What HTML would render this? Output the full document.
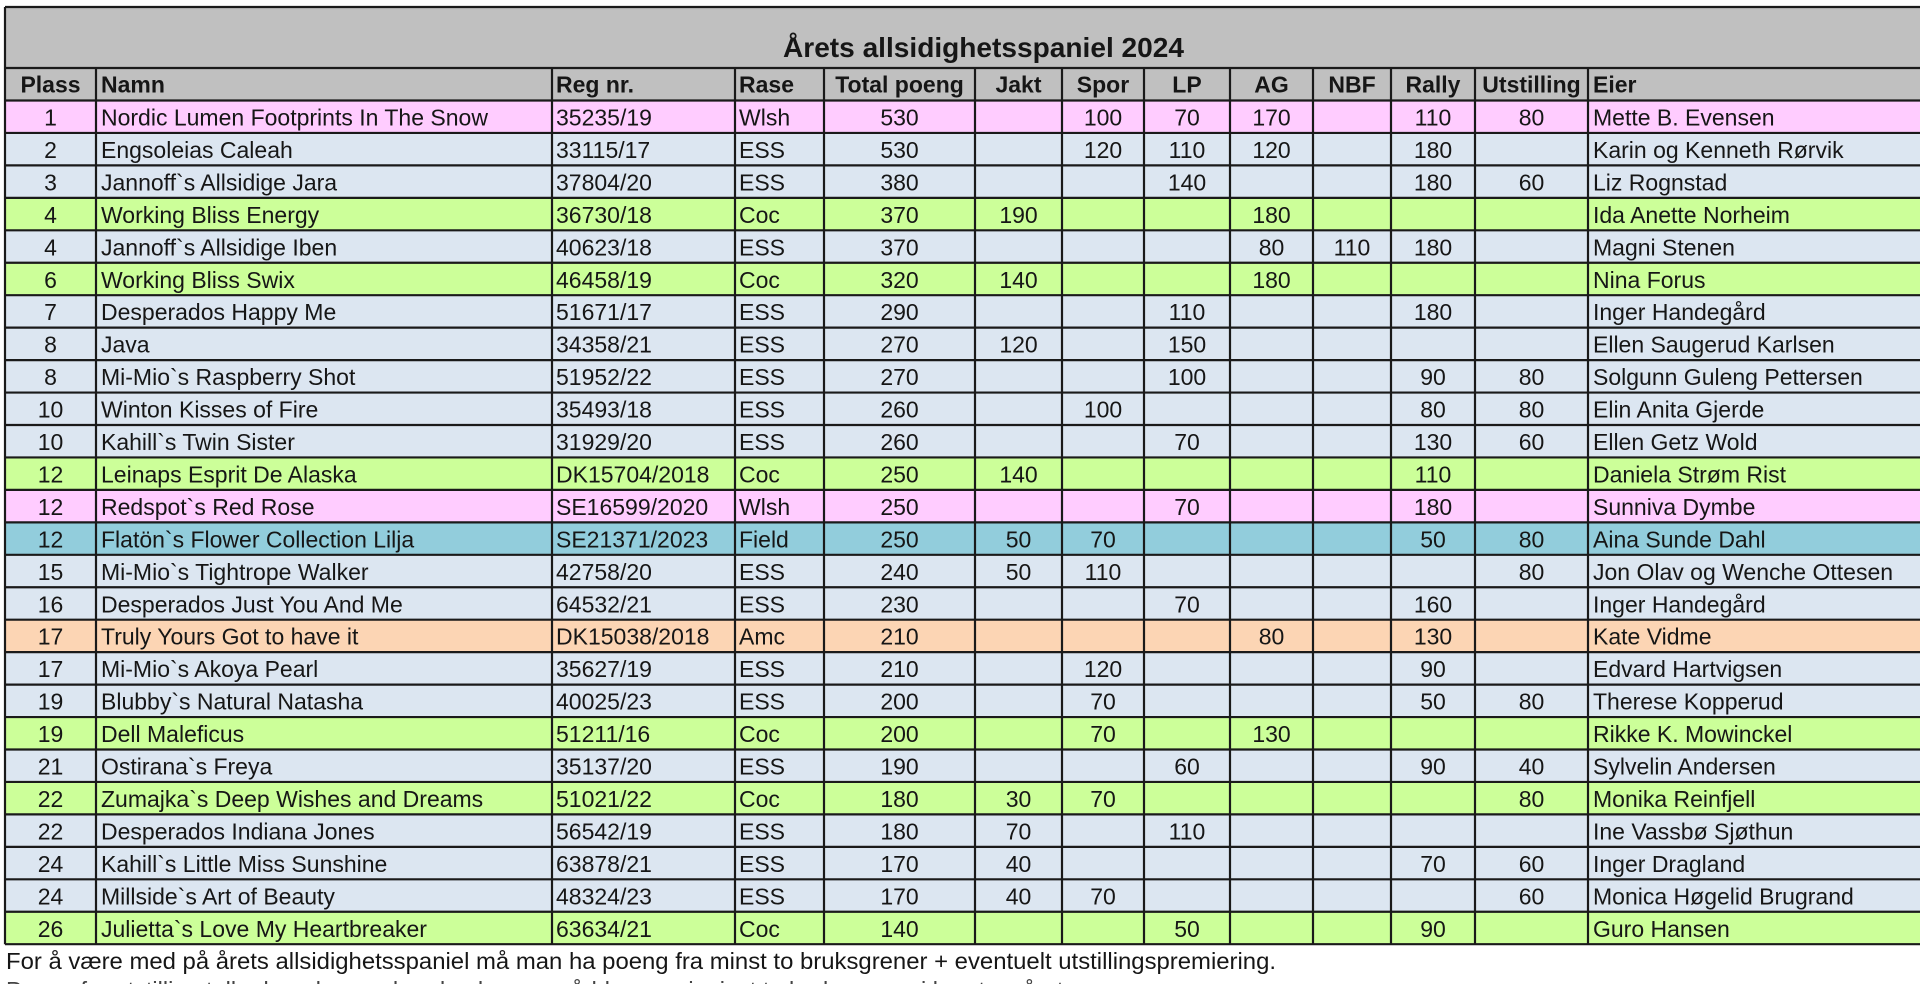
<!DOCTYPE html>
<html>
<head>
<meta charset="utf-8">
<style>
html,body{margin:0;padding:0;background:#fff;width:1920px;height:984px;overflow:hidden}
svg{display:block}
.c{text-anchor:middle}
</style>
</head>
<body>
<svg width="1920" height="984" viewBox="0 0 1920 984" xmlns="http://www.w3.org/2000/svg" font-family="'Liberation Sans', Arial, sans-serif" font-size="23" fill="#161616">
<rect x="0" y="0" width="1920" height="984" fill="#ffffff"/>
<rect x="5" y="7" width="1915" height="93.5" fill="#c0c0c0"/>
<text x="983.5" y="57" class="c" font-weight="bold" font-size="28" textLength="401" lengthAdjust="spacingAndGlyphs">Årets allsidighetsspaniel 2024</text>

<g font-weight="bold" transform="translate(0,68)">
<text x="50.5" y="24.5" class="c">Plass</text>
<text x="101" y="24.5">Namn</text>
<text x="556" y="24.5">Reg nr.</text>
<text x="739" y="24.5">Rase</text>
<text x="899.5" y="24.5" class="c">Total poeng</text>
<text x="1018.5" y="24.5" class="c">Jakt</text>
<text x="1103" y="24.5" class="c">Spor</text>
<text x="1187" y="24.5" class="c">LP</text>
<text x="1271.5" y="24.5" class="c">AG</text>
<text x="1352" y="24.5" class="c">NBF</text>
<text x="1433" y="24.5" class="c">Rally</text>
<text x="1531.5" y="24.5" class="c">Utstilling</text>
<text x="1593" y="24.5">Eier</text>
</g>

<g transform="translate(0,100.5)"><rect x="5" width="1915" height="32.45" fill="#ffccff"/>
<text x="50.5" y="25" class="c">1</text><text x="101" y="25">Nordic Lumen Footprints In The Snow</text><text x="556" y="25">35235/19</text><text x="739" y="25">Wlsh</text><text x="899.5" y="25" class="c">530</text><text x="1103" y="25" class="c">100</text><text x="1187" y="25" class="c">70</text><text x="1271.5" y="25" class="c">170</text><text x="1433" y="25" class="c">110</text><text x="1531.5" y="25" class="c">80</text><text x="1593" y="25">Mette B. Evensen</text></g>

<g transform="translate(0,132.95)"><rect x="5" width="1915" height="32.45" fill="#dce6f1"/>
<text x="50.5" y="25" class="c">2</text><text x="101" y="25">Engsoleias Caleah</text><text x="556" y="25">33115/17</text><text x="739" y="25">ESS</text><text x="899.5" y="25" class="c">530</text><text x="1103" y="25" class="c">120</text><text x="1187" y="25" class="c">110</text><text x="1271.5" y="25" class="c">120</text><text x="1433" y="25" class="c">180</text><text x="1593" y="25">Karin og Kenneth Rørvik</text></g>

<g transform="translate(0,165.4)"><rect x="5" width="1915" height="32.45" fill="#dce6f1"/>
<text x="50.5" y="25" class="c">3</text><text x="101" y="25">Jannoff`s Allsidige Jara</text><text x="556" y="25">37804/20</text><text x="739" y="25">ESS</text><text x="899.5" y="25" class="c">380</text><text x="1187" y="25" class="c">140</text><text x="1433" y="25" class="c">180</text><text x="1531.5" y="25" class="c">60</text><text x="1593" y="25">Liz Rognstad</text></g>

<g transform="translate(0,197.85)"><rect x="5" width="1915" height="32.45" fill="#ccff99"/>
<text x="50.5" y="25" class="c">4</text><text x="101" y="25">Working Bliss Energy</text><text x="556" y="25">36730/18</text><text x="739" y="25">Coc</text><text x="899.5" y="25" class="c">370</text><text x="1018.5" y="25" class="c">190</text><text x="1271.5" y="25" class="c">180</text><text x="1593" y="25">Ida Anette Norheim</text></g>

<g transform="translate(0,230.3)"><rect x="5" width="1915" height="32.45" fill="#dce6f1"/>
<text x="50.5" y="25" class="c">4</text><text x="101" y="25">Jannoff`s Allsidige Iben</text><text x="556" y="25">40623/18</text><text x="739" y="25">ESS</text><text x="899.5" y="25" class="c">370</text><text x="1271.5" y="25" class="c">80</text><text x="1352" y="25" class="c">110</text><text x="1433" y="25" class="c">180</text><text x="1593" y="25">Magni Stenen</text></g>

<g transform="translate(0,262.75)"><rect x="5" width="1915" height="32.45" fill="#ccff99"/>
<text x="50.5" y="25" class="c">6</text><text x="101" y="25">Working Bliss Swix</text><text x="556" y="25">46458/19</text><text x="739" y="25">Coc</text><text x="899.5" y="25" class="c">320</text><text x="1018.5" y="25" class="c">140</text><text x="1271.5" y="25" class="c">180</text><text x="1593" y="25">Nina Forus</text></g>

<g transform="translate(0,295.2)"><rect x="5" width="1915" height="32.45" fill="#dce6f1"/>
<text x="50.5" y="25" class="c">7</text><text x="101" y="25">Desperados Happy Me</text><text x="556" y="25">51671/17</text><text x="739" y="25">ESS</text><text x="899.5" y="25" class="c">290</text><text x="1187" y="25" class="c">110</text><text x="1433" y="25" class="c">180</text><text x="1593" y="25">Inger Handegård</text></g>

<g transform="translate(0,327.65)"><rect x="5" width="1915" height="32.45" fill="#dce6f1"/>
<text x="50.5" y="25" class="c">8</text><text x="101" y="25">Java</text><text x="556" y="25">34358/21</text><text x="739" y="25">ESS</text><text x="899.5" y="25" class="c">270</text><text x="1018.5" y="25" class="c">120</text><text x="1187" y="25" class="c">150</text><text x="1593" y="25">Ellen Saugerud Karlsen</text></g>

<g transform="translate(0,360.1)"><rect x="5" width="1915" height="32.45" fill="#dce6f1"/>
<text x="50.5" y="25" class="c">8</text><text x="101" y="25">Mi-Mio`s Raspberry Shot</text><text x="556" y="25">51952/22</text><text x="739" y="25">ESS</text><text x="899.5" y="25" class="c">270</text><text x="1187" y="25" class="c">100</text><text x="1433" y="25" class="c">90</text><text x="1531.5" y="25" class="c">80</text><text x="1593" y="25">Solgunn Guleng Pettersen</text></g>

<g transform="translate(0,392.55)"><rect x="5" width="1915" height="32.45" fill="#dce6f1"/>
<text x="50.5" y="25" class="c">10</text><text x="101" y="25">Winton Kisses of Fire</text><text x="556" y="25">35493/18</text><text x="739" y="25">ESS</text><text x="899.5" y="25" class="c">260</text><text x="1103" y="25" class="c">100</text><text x="1433" y="25" class="c">80</text><text x="1531.5" y="25" class="c">80</text><text x="1593" y="25">Elin Anita Gjerde</text></g>

<g transform="translate(0,425)"><rect x="5" width="1915" height="32.45" fill="#dce6f1"/>
<text x="50.5" y="25" class="c">10</text><text x="101" y="25">Kahill`s Twin Sister</text><text x="556" y="25">31929/20</text><text x="739" y="25">ESS</text><text x="899.5" y="25" class="c">260</text><text x="1187" y="25" class="c">70</text><text x="1433" y="25" class="c">130</text><text x="1531.5" y="25" class="c">60</text><text x="1593" y="25">Ellen Getz Wold</text></g>

<g transform="translate(0,457.45)"><rect x="5" width="1915" height="32.45" fill="#ccff99"/>
<text x="50.5" y="25" class="c">12</text><text x="101" y="25">Leinaps Esprit De Alaska</text><text x="556" y="25">DK15704/2018</text><text x="739" y="25">Coc</text><text x="899.5" y="25" class="c">250</text><text x="1018.5" y="25" class="c">140</text><text x="1433" y="25" class="c">110</text><text x="1593" y="25">Daniela Strøm Rist</text></g>

<g transform="translate(0,489.9)"><rect x="5" width="1915" height="32.45" fill="#ffccff"/>
<text x="50.5" y="25" class="c">12</text><text x="101" y="25">Redspot`s Red Rose</text><text x="556" y="25">SE16599/2020</text><text x="739" y="25">Wlsh</text><text x="899.5" y="25" class="c">250</text><text x="1187" y="25" class="c">70</text><text x="1433" y="25" class="c">180</text><text x="1593" y="25">Sunniva Dymbe</text></g>

<g transform="translate(0,522.35)"><rect x="5" width="1915" height="32.45" fill="#92cddc"/>
<text x="50.5" y="25" class="c">12</text><text x="101" y="25">Flatön`s Flower Collection Lilja</text><text x="556" y="25">SE21371/2023</text><text x="739" y="25">Field</text><text x="899.5" y="25" class="c">250</text><text x="1018.5" y="25" class="c">50</text><text x="1103" y="25" class="c">70</text><text x="1433" y="25" class="c">50</text><text x="1531.5" y="25" class="c">80</text><text x="1593" y="25">Aina Sunde Dahl</text></g>

<g transform="translate(0,554.8)"><rect x="5" width="1915" height="32.45" fill="#dce6f1"/>
<text x="50.5" y="25" class="c">15</text><text x="101" y="25">Mi-Mio`s Tightrope Walker</text><text x="556" y="25">42758/20</text><text x="739" y="25">ESS</text><text x="899.5" y="25" class="c">240</text><text x="1018.5" y="25" class="c">50</text><text x="1103" y="25" class="c">110</text><text x="1531.5" y="25" class="c">80</text><text x="1593" y="25">Jon Olav og Wenche Ottesen</text></g>

<g transform="translate(0,587.25)"><rect x="5" width="1915" height="32.45" fill="#dce6f1"/>
<text x="50.5" y="25" class="c">16</text><text x="101" y="25">Desperados Just You And Me</text><text x="556" y="25">64532/21</text><text x="739" y="25">ESS</text><text x="899.5" y="25" class="c">230</text><text x="1187" y="25" class="c">70</text><text x="1433" y="25" class="c">160</text><text x="1593" y="25">Inger Handegård</text></g>

<g transform="translate(0,619.7)"><rect x="5" width="1915" height="32.45" fill="#fcd5b4"/>
<text x="50.5" y="25" class="c">17</text><text x="101" y="25">Truly Yours Got to have it</text><text x="556" y="25">DK15038/2018</text><text x="739" y="25">Amc</text><text x="899.5" y="25" class="c">210</text><text x="1271.5" y="25" class="c">80</text><text x="1433" y="25" class="c">130</text><text x="1593" y="25">Kate Vidme</text></g>

<g transform="translate(0,652.15)"><rect x="5" width="1915" height="32.45" fill="#dce6f1"/>
<text x="50.5" y="25" class="c">17</text><text x="101" y="25">Mi-Mio`s Akoya Pearl</text><text x="556" y="25">35627/19</text><text x="739" y="25">ESS</text><text x="899.5" y="25" class="c">210</text><text x="1103" y="25" class="c">120</text><text x="1433" y="25" class="c">90</text><text x="1593" y="25">Edvard Hartvigsen</text></g>

<g transform="translate(0,684.6)"><rect x="5" width="1915" height="32.45" fill="#dce6f1"/>
<text x="50.5" y="25" class="c">19</text><text x="101" y="25">Blubby`s Natural Natasha</text><text x="556" y="25">40025/23</text><text x="739" y="25">ESS</text><text x="899.5" y="25" class="c">200</text><text x="1103" y="25" class="c">70</text><text x="1433" y="25" class="c">50</text><text x="1531.5" y="25" class="c">80</text><text x="1593" y="25">Therese Kopperud</text></g>

<g transform="translate(0,717.05)"><rect x="5" width="1915" height="32.45" fill="#ccff99"/>
<text x="50.5" y="25" class="c">19</text><text x="101" y="25">Dell Maleficus</text><text x="556" y="25">51211/16</text><text x="739" y="25">Coc</text><text x="899.5" y="25" class="c">200</text><text x="1103" y="25" class="c">70</text><text x="1271.5" y="25" class="c">130</text><text x="1593" y="25">Rikke K. Mowinckel</text></g>

<g transform="translate(0,749.5)"><rect x="5" width="1915" height="32.45" fill="#dce6f1"/>
<text x="50.5" y="25" class="c">21</text><text x="101" y="25">Ostirana`s Freya</text><text x="556" y="25">35137/20</text><text x="739" y="25">ESS</text><text x="899.5" y="25" class="c">190</text><text x="1187" y="25" class="c">60</text><text x="1433" y="25" class="c">90</text><text x="1531.5" y="25" class="c">40</text><text x="1593" y="25">Sylvelin Andersen</text></g>

<g transform="translate(0,781.95)"><rect x="5" width="1915" height="32.45" fill="#ccff99"/>
<text x="50.5" y="25" class="c">22</text><text x="101" y="25">Zumajka`s Deep Wishes and Dreams</text><text x="556" y="25">51021/22</text><text x="739" y="25">Coc</text><text x="899.5" y="25" class="c">180</text><text x="1018.5" y="25" class="c">30</text><text x="1103" y="25" class="c">70</text><text x="1531.5" y="25" class="c">80</text><text x="1593" y="25">Monika Reinfjell</text></g>

<g transform="translate(0,814.4)"><rect x="5" width="1915" height="32.45" fill="#dce6f1"/>
<text x="50.5" y="25" class="c">22</text><text x="101" y="25">Desperados Indiana Jones</text><text x="556" y="25">56542/19</text><text x="739" y="25">ESS</text><text x="899.5" y="25" class="c">180</text><text x="1018.5" y="25" class="c">70</text><text x="1187" y="25" class="c">110</text><text x="1593" y="25">Ine Vassbø Sjøthun</text></g>

<g transform="translate(0,846.85)"><rect x="5" width="1915" height="32.45" fill="#dce6f1"/>
<text x="50.5" y="25" class="c">24</text><text x="101" y="25">Kahill`s Little Miss Sunshine</text><text x="556" y="25">63878/21</text><text x="739" y="25">ESS</text><text x="899.5" y="25" class="c">170</text><text x="1018.5" y="25" class="c">40</text><text x="1433" y="25" class="c">70</text><text x="1531.5" y="25" class="c">60</text><text x="1593" y="25">Inger Dragland</text></g>

<g transform="translate(0,879.3)"><rect x="5" width="1915" height="32.45" fill="#dce6f1"/>
<text x="50.5" y="25" class="c">24</text><text x="101" y="25">Millside`s Art of Beauty</text><text x="556" y="25">48324/23</text><text x="739" y="25">ESS</text><text x="899.5" y="25" class="c">170</text><text x="1018.5" y="25" class="c">40</text><text x="1103" y="25" class="c">70</text><text x="1531.5" y="25" class="c">60</text><text x="1593" y="25">Monica Høgelid Brugrand</text></g>

<g transform="translate(0,911.75)"><rect x="5" width="1915" height="32.45" fill="#ccff99"/>
<text x="50.5" y="25" class="c">26</text><text x="101" y="25">Julietta`s Love My Heartbreaker</text><text x="556" y="25">63634/21</text><text x="739" y="25">Coc</text><text x="899.5" y="25" class="c">140</text><text x="1187" y="25" class="c">50</text><text x="1433" y="25" class="c">90</text><text x="1593" y="25">Guro Hansen</text></g>

<path fill="none" stroke="#1a1a1a" stroke-width="2.2" d="M5 7H1920 M5 68H1920 M5 100.5H1920 M5 132.95H1920 M5 165.4H1920 M5 197.85H1920 M5 230.3H1920 M5 262.75H1920 M5 295.2H1920 M5 327.65H1920 M5 360.1H1920 M5 392.55H1920 M5 425H1920 M5 457.45H1920 M5 489.9H1920 M5 522.35H1920 M5 554.8H1920 M5 587.25H1920 M5 619.7H1920 M5 652.15H1920 M5 684.6H1920 M5 717.05H1920 M5 749.5H1920 M5 781.95H1920 M5 814.4H1920 M5 846.85H1920 M5 879.3H1920 M5 911.75H1920 M5 944.2H1920"/>
<path fill="none" stroke="#1a1a1a" stroke-width="2.2" d="M5 7V944.2 M96 68V944.2 M552 68V944.2 M735 68V944.2 M824 68V944.2 M975 68V944.2 M1062 68V944.2 M1144 68V944.2 M1230 68V944.2 M1313 68V944.2 M1391 68V944.2 M1475 68V944.2 M1588 68V944.2"/>

<text x="6" y="969" font-size="23.5" textLength="1270" lengthAdjust="spacingAndGlyphs">For å være med på årets allsidighetsspaniel må man ha poeng fra minst to bruksgrener + eventuelt utstillingspremiering.</text>
<text x="6" y="998" font-size="23.5" fill="#444" textLength="1064" lengthAdjust="spacingAndGlyphs">Poeng fra utstilling teller kun dersom hunden har oppnådd poeng i minst to bruksgrener i løpet av året.</text>
</svg>
</body>
</html>
